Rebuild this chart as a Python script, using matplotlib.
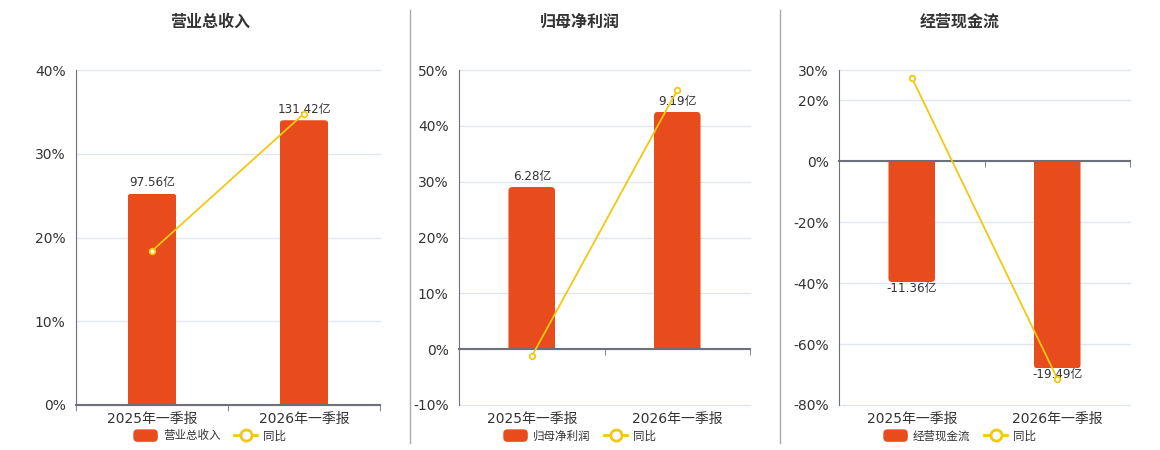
import matplotlib

matplotlib.use("Agg")
import matplotlib.pyplot as plt
from matplotlib.legend_handler import HandlerPatch
from matplotlib.lines import Line2D
from matplotlib.patches import FancyBboxPatch, Patch, Rectangle

plt.rcParams["font.family"] = ["DejaVu Sans", "Noto Sans CJK SC"]

categories = ["2025年一季报", "2026年一季报"]

revenue = [97.56, 131.42]
revenue_yoy = [18.4, 34.8]
revenue_ticks = [0, 10, 20, 30, 40]

profit = [6.28, 9.19]
profit_yoy = [-1.3, 46.4]
profit_ticks = [-10, 0, 10, 20, 30, 40, 50]

cash = [-11.36, -19.49]
cash_yoy = [27.5, -71.3]
cash_ticks = [-80, -60, -40, -20, 0, 20, 30]

BAR = "#E84C1D"
LINE = "#F2C811"
AXIS = "#6E7079"
GRID = "#E0E6F1"
TEXT = "#333333"

W, H = 1160, 450
fig = plt.figure(figsize=(W / 100, H / 100), dpi=100)


def px_rect(x0, x1, y_top, y_bot):
    return [x0 / W, 1 - y_bot / H, (x1 - x0) / W, (y_bot - y_top) / H]


def round_handle(legend, orig_handle, xdescent, ydescent, width, height, fontsize):
    return FancyBboxPatch((-xdescent, -ydescent), width, height,
                          boxstyle="round,pad=0,rounding_size=2.5")


def draw_panel(rect, title, center_x, name, values, yoy, ticks):
    lo, hi = ticks[0], ticks[-1]
    ax = fig.add_axes(rect)
    ax2 = ax.twinx()

    # bar axis: scaled so the largest bar reaches 85% of its side
    extent = hi if max(values) > 0 else -lo
    k = max(abs(v) for v in values) / (0.85 * extent)
    ax.set_ylim(lo * k, hi * k)
    ax.set_xlim(-0.5, 1.5)
    ax.set_yticks([t * k for t in ticks])
    ax.tick_params(axis="y", left=False, labelleft=False, right=False, labelright=False)
    ax.grid(axis="y", color=GRID, lw=1, clip_on=False)
    ax.set_axisbelow(True)
    for s in ax.spines.values():
        s.set_visible(False)
    ax.set_xticks(range(len(categories)), labels=categories)
    ax.set_xticks([-0.5, 0.5, 1.5], minor=True)
    ax.tick_params(axis="x", which="both", length=0, pad=5, labelsize=10, labelcolor=TEXT)

    bars = ax.bar(range(len(categories)), values, width=0.32, color=BAR)
    bbox = ax.get_window_extent()
    xpp = 2 / bbox.width
    ypp = (hi - lo) * k / bbox.height
    r = 4 * xpp
    for b in bars:
        x, y0, w, h = b.get_x(), b.get_y(), b.get_width(), b.get_height()
        b.set_visible(False)
        ext = r * ypp / xpp
        yb = y0 - ext if h > 0 else y0 + h
        fb = FancyBboxPatch((x, yb), w, abs(h) + ext, boxstyle=f"round,pad=0,rounding_size={r}",
                            mutation_aspect=ypp / xpp, fc=BAR, ec="none", zorder=2)
        ax.add_patch(fb)
        clip = Rectangle((x, min(0, h)), w, abs(h), transform=ax.transData)
        fb.set_clip_path(clip)
    for i, v in enumerate(values):
        off = 3 if v > 0 else 0
        ax.annotate(f"{v:.2f}亿", (i, v), xytext=(0, off), textcoords="offset points",
                    ha="center", va="bottom" if v > 0 else "top", fontsize=8.6,
                    color=TEXT, zorder=5)

    ax2.set_ylim(lo, hi)
    ax2.set_yticks(ticks)
    ax2.set_yticklabels([f"{t}%" for t in ticks], fontsize=10, color=TEXT)
    ax2.yaxis.tick_left()
    ax2.tick_params(axis="y", which="both", left=False, right=False, pad=4)
    for s in ("top", "right"):
        ax2.spines[s].set_visible(False)
    ax2.spines["left"].set_color(AXIS)
    ax2.spines["bottom"].set_position(("data", 0))
    ax2.spines["bottom"].set_color(AXIS)
    ax2.spines["bottom"].set_linewidth(1.5)
    ax2.xaxis.set_visible(True)
    ax2.tick_params(axis="x", which="major", length=0, labelbottom=False)
    ax2.tick_params(axis="x", which="minor", length=4, color=AXIS, direction="out",
                    labelbottom=False)
    ax2.plot(range(len(categories)), yoy, color=LINE, lw=1.3, marker="o", ms=4,
             mfc="white", mec=LINE, mew=1.3, zorder=4)

    fig.text(center_x / W, 1 - 22 / H, title, ha="center", va="center",
             fontsize=11.5, fontweight="bold", color=TEXT)
    handles = [Patch(color=BAR, label=name),
               Line2D([], [], color=LINE, lw=2, marker="o", ms=8, mfc="white",
                      mec=LINE, mew=2, label="同比")]
    fig.legend(handles=handles, loc="center", bbox_to_anchor=(center_x / W, 1 - 436 / H),
               ncol=2, frameon=False, fontsize=8.3, handlelength=2.0, handleheight=1.1,
               columnspacing=1.2, handletextpad=0.5, labelcolor=TEXT,
               handler_map={Patch: HandlerPatch(patch_func=round_handle)})


draw_panel(px_rect(76, 380, 70, 405), "营业总收入", 210, "营业总收入", revenue, revenue_yoy, revenue_ticks)
draw_panel(px_rect(459, 750, 70, 405), "归母净利润", 580, "归母净利润", profit, profit_yoy, profit_ticks)
draw_panel(px_rect(839, 1130, 70, 405), "经营现金流", 960, "经营现金流", cash, cash_yoy, cash_ticks)

for x in (410, 780):
    fig.add_artist(Line2D([x / W, x / W], [1 - 10 / H, 1 - 443 / H], color="#AAAAAA", lw=1))

fig.savefig("out.png", dpi=100)
